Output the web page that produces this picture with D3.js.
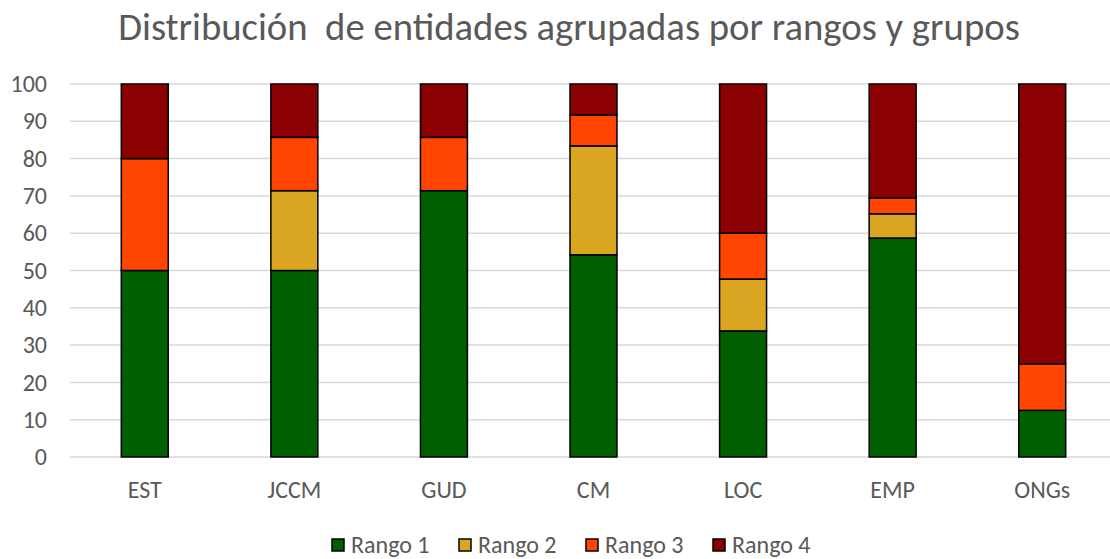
<!DOCTYPE html>
<html>
<head>
<meta charset="utf-8">
<script src="https://cdn.jsdelivr.net/npm/d3@7"></script>
<style>
	body { margin: 0; background: #fff; }
	svg { display: block; }
</style>
</head>
<body>
<svg id="chart" width="1110" height="559"></svg>
<script>
// datos (porcentaje por grupo)
var grupos = ["EST", "JCCM", "GUD", "CM", "LOC", "EMP", "ONGs"];
var rangos = ["Rango 1", "Rango 2", "Rango 3", "Rango 4"];
var rango1 = [50, 50, 71.4, 54.2, 33.8, 58.7, 12.5];
var rango2 = [0, 21.4, 0, 29.2, 13.9, 6.5, 0];
var rango3 = [30, 14.3, 14.3, 8.3, 12.3, 4.3, 12.5];
var rango4 = [20, 14.3, 14.3, 8.3, 40.0, 30.5, 75];
var yTicks = [0, 10, 20, 30, 40, 50, 60, 70, 80, 90, 100];
var colores = ["#005f00", "#daa520", "#ff4500", "#8b0000"];

var titulo = "Distribución  de entidades agrupadas por rangos y grupos";

var tabla = grupos.map(function(g, i){
	return {grupo: g, "Rango 1": rango1[i], "Rango 2": rango2[i], "Rango 3": rango3[i], "Rango 4": rango4[i]};
});

var svg = d3.select("#chart"),
	margin = {top: 84, right: -7, bottom: 102, left: 70},
	width = svg.attr("width") - margin.left - margin.right,
	height = svg.attr("height") - margin.top - margin.bottom;

var fuente = "Calibri, Carlito, Lato, sans-serif";

var x = d3.scaleBand().domain(grupos).range([0, width]).paddingInner(0.686).paddingOuter(0.343);
var y = d3.scaleLinear().domain([0, 100]).range([height, 0]);
var z = d3.scaleOrdinal().domain(rangos).range(colores);

var g = svg.append("g").attr("transform", "translate(" + margin.left + "," + margin.top + ")");

// titulo, ajustado al ancho del original
var t = svg.append("text")
	.attr("x", 569)
	.attr("y", 40)
	.attr("text-anchor", "middle")
	.style("font-family", fuente)
	.style("font-size", "30px")
	.style("fill", "#595959")
	.style("white-space", "pre")
	.text(titulo);
var w = t.node().getComputedTextLength();
t.style("font-size", (30 * 902 / w) + "px");

// rejilla
g.append("g")
	.selectAll("line")
	.data(yTicks)
	.enter().append("line")
	.attr("x1", 0)
	.attr("x2", width)
	.attr("y1", function(d) { return y(d); })
	.attr("y2", function(d) { return y(d); })
	.style("stroke", "#d9d9d9")
	.style("stroke-width", 1.5);

// eje y
var ejeY = g.append("g")
	.call(d3.axisLeft(y).tickValues(yTicks).tickSize(0).tickPadding(23));
ejeY.select(".domain").remove();
ejeY.selectAll("text")
	.style("font-family", fuente)
	.style("font-size", "24px")
	.style("fill", "#595959");

// eje x
var ejeX = g.append("g")
	.attr("transform", "translate(0," + height + ")")
	.call(d3.axisBottom(x).tickSize(0).tickPadding(24));
ejeX.select(".domain").remove();
ejeX.selectAll("text")
	.style("font-family", fuente)
	.style("font-size", "24px")
	.style("fill", "#595959");

// barras apiladas
var series = d3.stack().keys(rangos)(tabla);

g.selectAll(".serie")
	.data(series)
	.enter().append("g")
	.attr("class", "serie")
	.style("fill", function(d) { return z(d.key); })
	.selectAll("rect")
	.data(function(d) { return d.filter(function(p) { return p[1] - p[0] > 0; }); })
	.enter().append("rect")
	.attr("x", function(d) { return x(d.data.grupo); })
	.attr("y", function(d) { return y(d[1]); })
	.attr("width", x.bandwidth())
	.attr("height", function(d) { return y(d[0]) - y(d[1]); })
	.style("stroke", "#000")
	.style("stroke-width", 1.5);

// leyenda
var posLeyenda = [332, 459, 586, 713];
var leyenda = svg.append("g")
	.selectAll("g")
	.data(rangos)
	.enter().append("g")
	.attr("transform", function(d, i) { return "translate(" + posLeyenda[i] + ",539)"; });

leyenda.append("rect")
	.attr("width", 12)
	.attr("height", 12)
	.style("fill", function(d) { return z(d); })
	.style("stroke", "#000")
	.style("stroke-width", 1.5);

leyenda.append("text")
	.attr("x", 19)
	.attr("y", 6)
	.attr("dy", "0.35em")
	.style("font-family", fuente)
	.style("font-size", "24px")
	.style("fill", "#595959")
	.text(function(d) { return d; });
</script>
</body>
</html>
